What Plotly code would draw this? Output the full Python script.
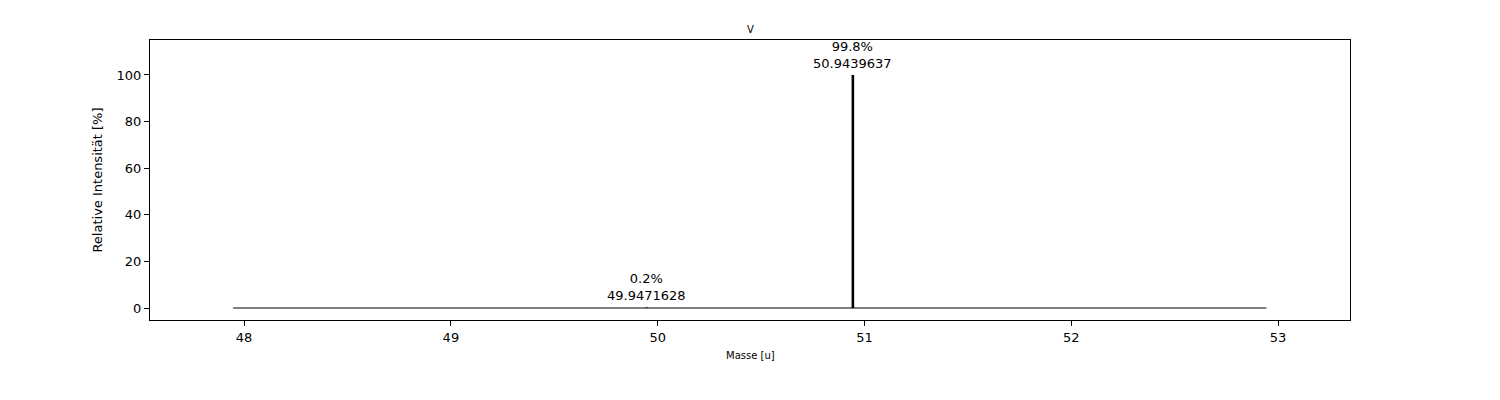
import plotly.graph_objects as go

element = "V"
masses = [49.9471628, 50.9439637]
abundances = [0.250, 99.750]
abundance_labels = ["0.2%", "99.8%"]
mass_labels = ["49.9471628", "50.9439637"]
x_ticks = [48, 49, 50, 51, 52, 53]
y_ticks = [0, 20, 40, 60, 80, 100]

amax = max(abundances)
rel = [a / amax * 100 for a in abundances]

FONT = "DejaVu Sans"
fig = go.Figure()

# baseline
fig.add_trace(go.Scatter(x=[min(masses) - 2, max(masses) + 2], y=[0, 0], mode="lines",
                         line=dict(color="black", width=1.2), hoverinfo="skip", showlegend=False))
# sticks
for m, r in zip(masses, rel):
    fig.add_trace(go.Scatter(x=[m, m], y=[0, r], mode="lines",
                             line=dict(color="black", width=2.6), showlegend=False))

for m, r, al, ml in zip(masses, rel, abundance_labels, mass_labels):
    fig.add_annotation(x=m, y=r, xref="x", yref="y", text=f"{al}<br>{ml}", showarrow=False,
                       yanchor="bottom", xanchor="center", yshift=2,
                       font=dict(family=FONT, size=13, color="black"))

fig.add_annotation(x=0.5, y=1.036, xref="paper", yref="paper", text=element, showarrow=False,
                   yanchor="middle", font=dict(family=FONT, size=10, color="black"))
fig.add_annotation(x=0.5, y=-0.125, xref="paper", yref="paper", text="Masse [u]", showarrow=False,
                   yanchor="middle", font=dict(family=FONT, size=10, color="black"))
fig.add_annotation(x=-0.0445, y=0.5, xref="paper", yref="paper", text="Relative Intensität [%]",
                   showarrow=False, textangle=-90, xanchor="center", yanchor="middle",
                   font=dict(family=FONT, size=13, color="black"))

fig.update_layout(
    width=1500, height=400,
    margin=dict(l=142, r=158, t=32, b=88),
    plot_bgcolor="white", paper_bgcolor="white",
    font=dict(family=FONT, size=13, color="black"),
    xaxis=dict(range=[47.545, 53.348], tickvals=x_ticks, showgrid=False, zeroline=False,
               showline=True, linecolor="black", linewidth=1, mirror=True,
               ticks="outside", ticklen=5, tickcolor="black", tickfont=dict(size=13)),
    yaxis=dict(range=[-5.15, 115], tickvals=y_ticks, showgrid=False, zeroline=False,
               showline=True, linecolor="black", linewidth=1, mirror=True,
               ticks="outside", ticklen=5, tickcolor="black", tickfont=dict(size=13)),
)

fig.write_html("out.html")
